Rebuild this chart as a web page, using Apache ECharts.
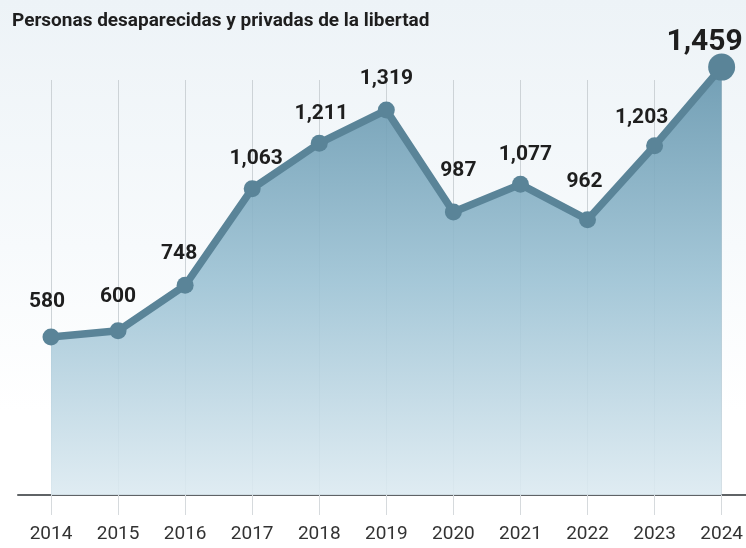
<!DOCTYPE html>
<html>
<head>
<meta charset="utf-8">
<script src="https://cdn.jsdelivr.net/npm/echarts@6/dist/echarts.min.js"></script>
<style>html,body{margin:0;padding:0;background:#fff;}#c{width:746px;height:548px;}</style>
</head>
<body>
<div id="c"></div>
<script>
var titleText = 'Personas desaparecidas y privadas de la libertad';
var years = ['2014','2015','2016','2017','2018','2019','2020','2021','2022','2023','2024'];
var values = [580, 600, 748, 1063, 1211, 1319, 987, 1077, 962, 1203, 1459];

// label offsets relative to the point centre (styling only)
var labelOffsets = [[-4,-35],[0,-34],[-6,-32],[4,-30],[2,-29],[0,-31],[5,-41],[5,-30],[-3,-38],[-13,-28],[-17,-25]];

var chart = echarts.init(document.getElementById('c'), null, {renderer:'canvas'});
var lineColor = '#5a8498';
var seriesData = values.map(function(v, i){
  var last = i === values.length - 1;
  return {
    value: v,
    symbolSize: last ? 27 : 17,
    label: {
      show: true,
      position: 'inside',
      offset: labelOffsets[i],
      formatter: function(p){ return p.value.toLocaleString('en-US'); },
      fontFamily: 'Roboto',
      fontWeight: 'bold',
      fontSize: last ? 30 : 21,
      color: '#1e1e1e'
    }
  };
});

chart.setOption({
  animation: false,
  backgroundColor: '#ffffff',
  graphic: [{
    type: 'rect', z: -10, silent: true,
    shape: {x: 0, y: 0, width: 746, height: 548},
    style: {fill: new echarts.graphic.LinearGradient(0,0,0,1,[
      {offset:0, color:'#edf3f7'},{offset:0.45, color:'#f7fafc'},{offset:0.75, color:'#ffffff'},{offset:1, color:'#ffffff'}])}
  }],
  title: {
    text: titleText, left: 7, top: 7,
    textStyle: {fontFamily: 'Roboto', fontWeight: 'bold', fontSize: 19, color: '#1e1e1e'}
  },
  grid: [
    {left: 51, right: 21, top: 80, bottom: 53},
    {left: 18, right: 0, top: 80, bottom: 53}
  ],
  xAxis: [{
    type: 'category', gridIndex: 0, data: years, boundaryGap: false,
    axisLine: {show: false},
    axisTick: {show: true, length: 20, lineStyle: {color: '#d6dadd', width: 1}},
    axisLabel: {fontFamily: 'Roboto', fontSize: 19, color: '#333', margin: 30},
    splitLine: {show: true, lineStyle: {color: '#cdd3d7', width: 1}}
  },{
    type: 'value', gridIndex: 1, min: 0, max: 1,
    axisLine: {show: true, onZero: false, lineStyle: {color: '#5f6366', width: 2}},
    axisTick: {show: false}, axisLabel: {show: false}, splitLine: {show: false}
  }],
  yAxis: [{
    type: 'value', gridIndex: 0, min: 65, max: 1417, show: false, splitLine: {show: false}
  },{
    type: 'value', gridIndex: 1, min: 0, max: 1, show: false
  }],
  series: [{
    type: 'line', xAxisIndex: 0, yAxisIndex: 0,
    data: seriesData,
    clip: false,
    symbol: 'circle',
    showSymbol: true,
    lineStyle: {color: lineColor, width: 7.5, join: 'round'},
    itemStyle: {color: lineColor},
    areaStyle: {
      opacity: 0.9,
      color: new echarts.graphic.LinearGradient(0,0,0,1,[
        {offset:0, color:'#6495ad'},{offset:0.5, color:'#9cc2d4'},{offset:1, color:'#dceaf1'}])
    },
    z: 3
  }]
});
</script>
</body>
</html>
